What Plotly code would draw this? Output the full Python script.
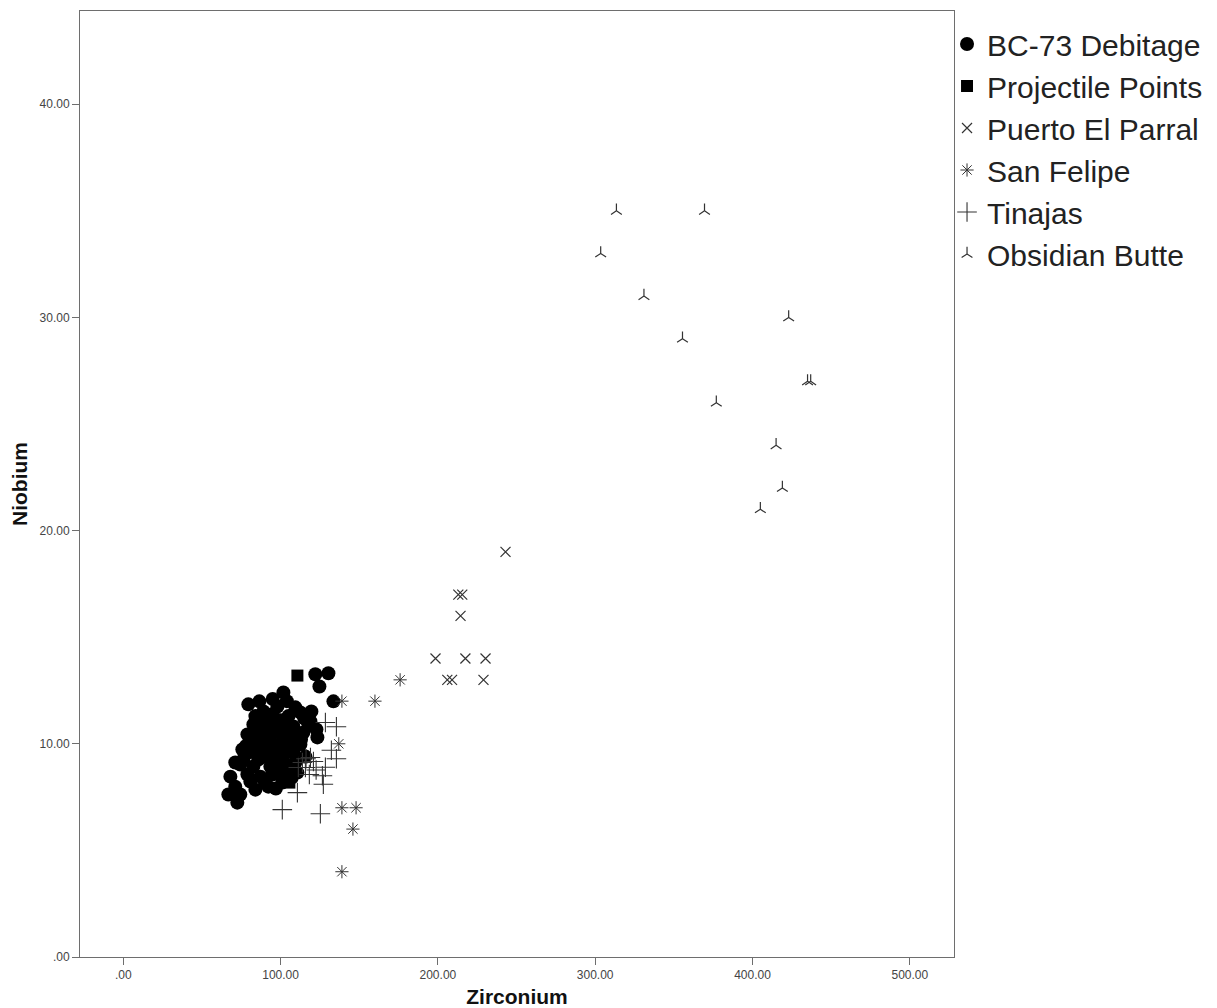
import plotly.graph_objects as go

# ---------------- data (Zirconium, Niobium) ----------------
bc73_zr = [122.1, 130.4, 124.7, 101.8, 133.6, 79.5, 86.5, 98.0, 109.4, 119.6, 89.1, 82.7,
           78.9, 82.7, 75.7, 71.2, 76.3, 68.1, 71.2, 66.8, 74.4, 72.5, 78.9, 80.8, 87.2,
           89.1, 92.2, 101.1, 110.7, 98.0, 123.4, 119.0, 122.8, 112.6, 117.7, 88.4, 93.5,
           98.6, 104.3, 108.1, 104.3, 108.1, 101.1, 93.5, 82.7, 96.7, 103.1, 90.3, 106.2,
           112.6, 109.4, 99.9, 94.8, 85.9, 93.5, 115.8, 114.5, 92.2, 74.4, 84.0, 97.0,
           105.0, 113.0, 100.0, 96.0, 107.0,
           85.0, 90.0, 95.0, 102.0, 106.0, 98.0, 90.0, 86.0, 80.0, 111.0, 115.0, 104.0,
           95.0, 100.0, 105.0, 88.0, 78.0, 84.0]
bc73_nb = [13.26, 13.31, 12.69, 12.41, 11.99, 11.85, 11.99, 11.75, 11.71, 11.52, 11.52, 10.91,
           10.44, 10.11, 9.73, 9.12, 9.26, 8.46, 7.99, 7.62, 7.62, 7.24, 8.56, 8.23, 8.46,
           9.73, 7.99, 8.18, 8.65, 9.26, 10.30, 11.05, 10.67, 11.47, 10.91, 10.20, 10.34,
           10.58, 11.00, 10.81, 10.06, 9.59, 9.12, 8.93, 8.93, 9.73, 8.79, 9.40, 10.44,
           9.97, 9.12, 9.97, 8.56, 9.26, 11.14, 9.40, 10.53, 10.67, 9.03, 7.85, 7.90,
           11.30, 10.20, 11.10, 10.90, 8.40,
           10.5, 11.0, 11.4, 10.3, 9.8, 8.6, 8.2, 9.8, 9.6, 10.3, 11.2, 12.0,
           12.1, 9.5, 9.0, 10.8, 9.9, 11.3]

proj_zr = [110.7, 105.6, 94.8, 101.8, 107.5, 99.9, 103.7, 96.7]
proj_nb = [13.2, 8.18, 9.97, 9.5, 10.2, 8.79, 10.9, 9.17]

parral_zr = [243.0, 213.0, 215.5, 214.4, 198.5, 217.5, 230.3, 206.0, 209.0, 229.0]
parral_nb = [19.0, 17.0, 17.0, 16.0, 14.0, 14.0, 14.0, 13.0, 13.0, 13.0]

felipe_zr = [176.0, 160.0, 139.0, 137.0, 139.0, 148.0, 146.0, 139.0]
felipe_nb = [13.0, 12.0, 12.0, 10.0, 7.0, 7.0, 6.0, 4.0]

tinajas_zr = [128.5, 135.5, 132.3, 135.5, 128.5, 126.6, 127.2, 118.3, 120.9, 119.0, 113.9,
              111.3, 115.8, 110.7, 101.1, 125.3, 122.6, 116.2]
tinajas_nb = [11.0, 10.8, 9.7, 9.3, 8.9, 8.5, 8.1, 8.56, 9.17, 9.36, 9.12,
              8.89, 8.89, 7.71, 6.91, 6.72, 8.77, 9.3]

butte_zr = [313.5, 369.5, 303.5, 331.0, 355.5, 423.0, 435.0, 437.0, 377.0, 415.0, 419.0, 405.0]
butte_nb = [35.0, 35.0, 33.0, 31.0, 29.0, 30.0, 27.0, 27.0, 26.0, 24.0, 22.0, 21.0]

x_tickvals = [0, 100, 200, 300, 400, 500]
x_ticktext = [".00", "100.00", "200.00", "300.00", "400.00", "500.00"]
y_tickvals = [0, 10, 20, 30, 40]
y_ticktext = [".00", "10.00", "20.00", "30.00", "40.00"]

# ---------------- figure ----------------
fig = go.Figure()

fig.add_trace(go.Scatter(x=bc73_zr, y=bc73_nb, mode="markers", name="BC-73 Debitage",
                         marker=dict(symbol="circle", size=14, color="black", line=dict(width=0))))
fig.add_trace(go.Scatter(x=proj_zr, y=proj_nb, mode="markers", name="Projectile Points",
                         marker=dict(symbol="square", size=12, color="black", line=dict(width=0))))
fig.add_trace(go.Scatter(x=parral_zr, y=parral_nb, mode="markers", name="Puerto El Parral",
                         marker=dict(symbol="x-thin-open", size=10, color="#333333",
                                     line=dict(width=1.2, color="#333333"))))
fig.add_trace(go.Scatter(x=felipe_zr, y=felipe_nb, mode="markers", name="San Felipe",
                         marker=dict(symbol="asterisk-open", size=11, color="#333333",
                                     line=dict(width=1.0, color="#333333"))))
fig.add_trace(go.Scatter(x=tinajas_zr, y=tinajas_nb, mode="markers", name="Tinajas",
                         marker=dict(symbol="cross-thin-open", size=14, color="#333333",
                                     line=dict(width=1.1, color="#333333"))))
fig.add_trace(go.Scatter(x=butte_zr, y=butte_nb, mode="markers", name="Obsidian Butte",
                         marker=dict(symbol="y-up-open", size=9, color="#333333",
                                     line=dict(width=1.2, color="#333333"))))

axis_common = dict(showgrid=False, zeroline=False, showline=True, linecolor="#6e6e6e",
                   linewidth=1, mirror=True, ticks="outside", ticklen=7, tickcolor="#6e6e6e",
                   tickfont=dict(family="Arial, Liberation Sans, sans-serif", size=12, color="#444444"))

fig.update_layout(
    width=1209, height=1000,
    margin=dict(l=72, r=263, t=3, b=51, autoexpand=False),
    paper_bgcolor="white", plot_bgcolor="white",
    font=dict(family="Arial, Liberation Sans, sans-serif", color="#222222"),
    xaxis=dict(range=[-27.5, 528.1], tickvals=x_tickvals, ticktext=x_ticktext,
               title=dict(text="<b>Zirconium</b>", font=dict(size=21, color="#111111"), standoff=9),
               automargin=False, **axis_common),
    yaxis=dict(range=[0, 44.37], tickvals=y_tickvals, ticktext=y_ticktext,
               title=dict(text="<b>Niobium</b>", font=dict(size=21, color="#111111"), standoff=8),
               automargin=False, **axis_common),
    legend=dict(xref="container", yref="container", x=0.7767, y=0.99, xanchor="left", yanchor="top",
                font=dict(size=30, color="#222222"), itemwidth=30, tracegroupgap=0,
                bgcolor="rgba(0,0,0,0)", borderwidth=0),
    showlegend=True,
)

fig.write_html("out.html")
